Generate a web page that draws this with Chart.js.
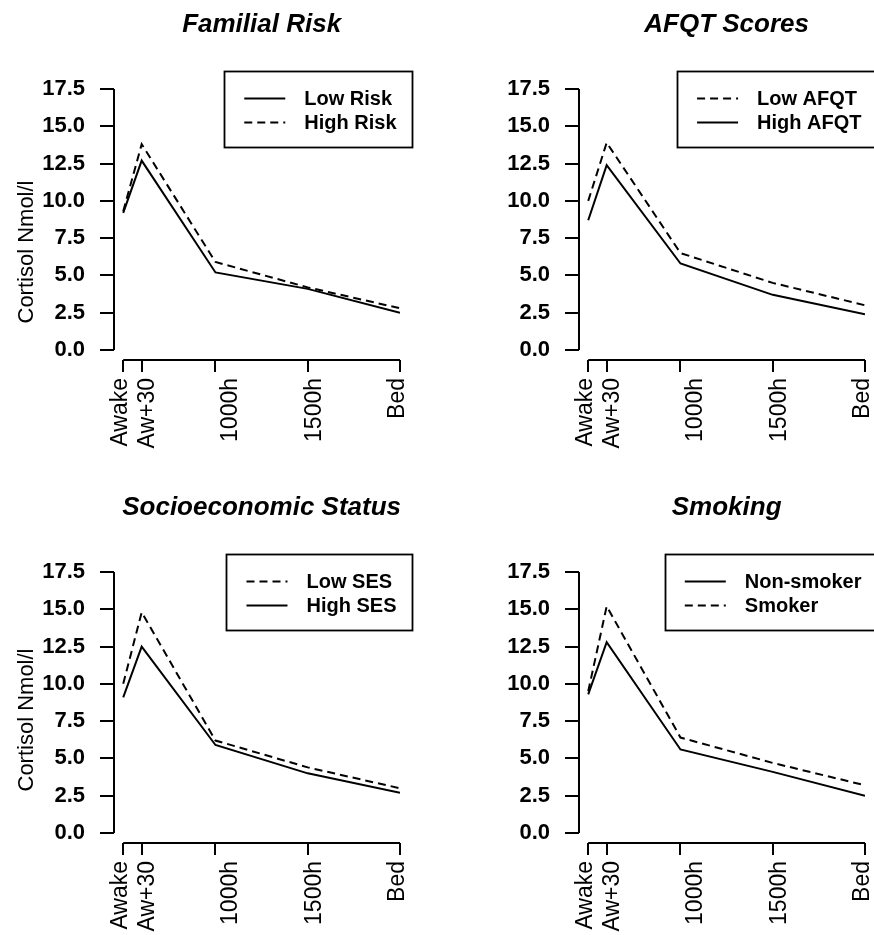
<!DOCTYPE html>
<html><head><meta charset="utf-8">
<script src="https://cdn.jsdelivr.net/npm/chart.js@4.4.1/dist/chart.umd.min.js"></script>
<style>
html,body{margin:0;padding:0;background:#fff;width:874px;height:935px;overflow:hidden}
canvas{position:absolute}
</style></head><body>
<canvas id="c1" width="465" height="483" style="left:0;top:0"></canvas>
<canvas id="c2" width="409" height="483" style="left:465px;top:0"></canvas>
<canvas id="c3" width="465" height="452" style="left:0;top:483px"></canvas>
<canvas id="c4" width="409" height="452" style="left:465px;top:483px"></canvas>
<script>
// ---- data ----
const categories = ['Awake', 'Aw+30', '1000h', '1500h', 'Bed'];
const hours = [0, 1, 5, 10, 15];
const yTicks = [0, 2.5, 5, 7.5, 10, 12.5, 15, 17.5];
const yTitle = 'Cortisol Nmol/l';

const lowRisk  = [9.2, 12.7, 5.2, 4.1, 2.5];
const highRisk = [9.3, 13.8, 5.9, 4.2, 2.8];
const lowAfqt  = [10.0, 13.9, 6.5, 4.5, 3.0];
const highAfqt = [8.7, 12.4, 5.8, 3.7, 2.4];
const lowSes   = [10.0, 14.8, 6.2, 4.4, 3.0];
const highSes  = [9.1, 12.5, 5.9, 4.0, 2.7];
const nonSmoker = [9.3, 12.8, 5.6, 4.1, 2.5];
const smoker    = [9.5, 15.2, 6.4, 4.7, 3.2];

// ---- layout / style ----
const FONT = '"Liberation Sans", Arial, Helvetica, sans-serif';
const X_LABEL_AT = [-0.15, 1.3, 5.8, 10.35, 14.85]; // where the rotated labels sit
const DASH = [8, 5];

const rStyle = {
  id: 'rStyle',
  afterDraw(chart, args, opts) {
    const ctx = chart.ctx, xs = chart.scales.x, ys = chart.scales.y, ca = chart.chartArea;
    ctx.save();
    ctx.strokeStyle = '#000'; ctx.fillStyle = '#000'; ctx.lineWidth = 2;
    // axis lines (R style, only over tick range)
    ctx.beginPath();
    ctx.moveTo(ca.left, ys.getPixelForValue(yTicks[0]));
    ctx.lineTo(ca.left, ys.getPixelForValue(yTicks[yTicks.length - 1]));
    ctx.stroke();
    ctx.beginPath();
    ctx.moveTo(xs.getPixelForValue(hours[0]), ca.bottom);
    ctx.lineTo(xs.getPixelForValue(hours[hours.length - 1]), ca.bottom);
    ctx.stroke();
    // title
    ctx.font = 'italic bold 26px ' + FONT;
    ctx.textAlign = 'center'; ctx.textBaseline = 'alphabetic';
    const cx = (xs.getPixelForValue(hours[0]) + xs.getPixelForValue(hours[hours.length - 1])) / 2;
    ctx.fillText(opts.title, cx, 32);
    // y title
    if (opts.showYTitle) {
      ctx.save();
      ctx.translate(27, opts.yTitleY);
      ctx.rotate(-Math.PI / 2);
      ctx.font = '22px ' + FONT;
      ctx.textAlign = 'center'; ctx.textBaseline = 'middle';
      ctx.fillText(yTitle, 0, 0);
      ctx.restore();
    }
    // legend (box, topright)
    ctx.font = 'bold 20px ' + FONT;
    const items = chart.data.datasets.map(d => ({label: d.label, dash: d.borderDash || []}));
    const maxW = Math.max(...items.map(i => ctx.measureText(i.label).width));
    const right = ca.right + 12.5;
    const w = 80 + maxW + 16;
    const left = right - w;
    const top = ys.getPixelForValue(yTicks[yTicks.length - 1]) - 18;
    ctx.lineWidth = 1.8;
    ctx.strokeRect(Math.round(left) + 0.5, Math.round(top) + 0.5, Math.round(w), 76);
    ctx.textAlign = 'left'; ctx.textBaseline = 'middle';
    items.forEach((it, i) => {
      const yy = top + 27.5 + i * 24;
      ctx.lineWidth = 2;
      ctx.setLineDash(it.dash);
      ctx.beginPath(); ctx.moveTo(left + 20, yy); ctx.lineTo(left + 61, yy); ctx.stroke();
      ctx.setLineDash([]);
      ctx.fillText(it.label, left + 80, yy + 1);
    });
    ctx.restore();
  }
};

function ds(label, vals, dashed) {
  return {
    label,
    data: vals.map((v, i) => ({x: hours[i], y: v})),
    borderColor: '#000', borderWidth: 2, pointRadius: 0, tension: 0,
    borderDash: dashed ? DASH : [], fill: false
  };
}

function makeChart(id, title, datasets, showYTitle, yTitleY) {
  const canvas = document.getElementById(id);
  const W = canvas.width, H = canvas.height;
  const plotBottom = 360, plotRight = 400;
  return new Chart(canvas, {
    type: 'line',
    data: {datasets},
    options: {
      responsive: false, animation: false, events: [],
      layout: {padding: {left: 0, top: 89, right: W - plotRight, bottom: 0}},
      plugins: {legend: {display: false}, tooltip: {enabled: false},
        rStyle: {title, showYTitle, yTitleY}},
      scales: {
        x: {
          type: 'linear', position: 'bottom', min: -0.5, max: 15,
          border: {display: false},
          grid: {drawOnChartArea: false, drawTicks: true, tickLength: 12, color: '#000', lineWidth: 2},
          ticks: {display: false},
          afterBuildTicks: s => { s.ticks = hours.map(v => ({value: v})); },
          afterFit: s => { s.height = 12; s.paddingLeft = 0; s.paddingRight = 0; }
        },
        x2: {
          type: 'linear', position: 'bottom', min: -0.5, max: 15,
          border: {display: false},
          grid: {display: false, drawTicks: false},
          ticks: {autoSkip: false, minRotation: 90, maxRotation: 90, padding: 6,
            color: '#000', font: {family: FONT, size: 23},
            callback: (v, i) => categories[i]},
          afterBuildTicks: s => { s.ticks = X_LABEL_AT.map(v => ({value: v})); },
          afterFit: s => { s.height = H - plotBottom - 12; s.paddingLeft = 0; s.paddingRight = 0; }
        },
        y: {
          type: 'linear', min: -0.67, max: 17.5,
          border: {display: false},
          grid: {drawOnChartArea: false, drawTicks: true, tickLength: 14, color: '#000', lineWidth: 2},
          ticks: {padding: 15, color: '#000', font: {family: FONT, size: 22, weight: 'bold'},
            callback: v => v.toFixed(1)},
          afterBuildTicks: s => { s.ticks = yTicks.map(v => ({value: v})); },
          afterFit: s => { s.width = 114; s.paddingTop = 0; s.paddingBottom = 0; }
        }
      }
    },
    plugins: [rStyle]
  });
}

makeChart('c1', 'Familial Risk', [ds('Low Risk', lowRisk, false), ds('High Risk', highRisk, true)], true, 252);
makeChart('c2', 'AFQT Scores', [ds('Low AFQT', lowAfqt, true), ds('High AFQT', highAfqt, false)], false, 0);
makeChart('c3', 'Socioeconomic Status', [ds('Low SES', lowSes, true), ds('High SES', highSes, false)], true, 237);
makeChart('c4', 'Smoking', [ds('Non-smoker', nonSmoker, false), ds('Smoker', smoker, true)], false, 0);
</script>
</body></html>
